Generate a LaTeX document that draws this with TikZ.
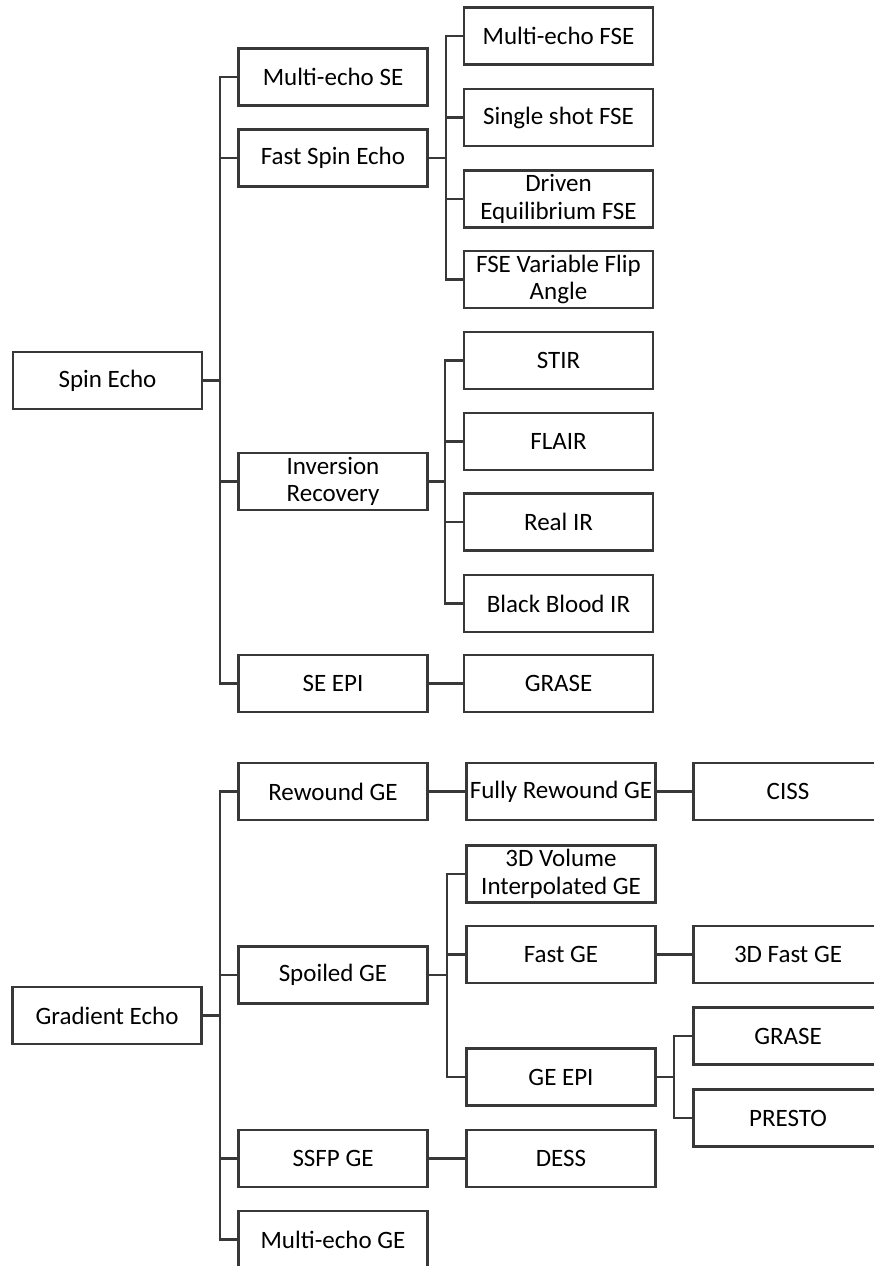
\documentclass[tikz,border=0pt]{standalone}
\usepackage{fontspec}
\setmainfont{Carlito}
\begin{document}
\begin{tikzpicture}[x=1pt,y=-1pt,
  box/.style={draw=black!78, line width=2.4pt, fill=white, text=black,
    minimum width=189pt, minimum height=57pt, inner sep=0pt, align=center,
    font=\fontsize{25}{27.5}\selectfont},
  link/.style={draw=black!78, line width=2.4pt}]
\useasboundingbox (0,0) rectangle (874,1266);
\clip (0,0) rectangle (874,1266);

% roots
\node[box] (se) at (107.5,380.5) {Spin Echo};
\node[box] (ge) at (107,1015.5) {Gradient Echo};

% spin echo family
\node[box] (mese)  at (333,77)    {Multi-echo SE};
\node[box] (fse)   at (333,158)   {Fast Spin Echo};
\node[box] (ir)    at (333,481.5) {Inversion\\Recovery};
\node[box] (seepi) at (333,683.5) {SE EPI};

\node[box] (mefse) at (558.5,36)    {Multi-echo FSE};
\node[box] (ssfse) at (558.5,117.5) {Single shot FSE};
\node[box] (defse) at (558.5,199)   {Driven\\Equilibrium FSE};
\node[box] (vfa)   at (558.5,279.5) {FSE Variable Flip\\Angle};
\node[box] (stir)  at (558.5,360.5) {STIR};
\node[box] (flair) at (558.5,441.5) {FLAIR};
\node[box] (realir) at (558.5,522)  {Real IR};
\node[box] (bbir)  at (558.5,603.5) {Black Blood IR};
\node[box] (grase) at (558.5,683.5) {GRASE};

% gradient echo family
\node[box] (rwge)  at (333,791.5)  {Rewound GE};
\node[box] (spge)  at (333,975)    {Spoiled GE};
\node[box] (ssfp)  at (333,1158.5) {SSFP GE};
\node[box] (mege)  at (333,1239.5) {Multi-echo GE};

\node[box] (frwge) at (561,791.5) {Fully Rewound GE};
\node[box] (vibe)  at (561,874)   {3D Volume\\Interpolated GE};
\node[box] (fge)   at (561,954.5) {Fast GE};
\node[box] (geepi) at (561,1077)  {GE EPI};
\node[box] (dess)  at (561,1158.5) {DESS};

\node[box] (ciss)   at (788,791.5) {CISS};
\node[box] (fge3d)  at (788,954.5) {3D Fast GE};
\node[box] (grase2) at (788,1036)  {GRASE};
\node[box] (presto) at (788,1118)  {PRESTO};

% trunk positions of the bracket connectors
\coordinate (tse)  at (220,0);
\coordinate (tfse) at (446,0);
\coordinate (tir)  at (445,0);
\coordinate (tge)  at (220,0);
\coordinate (tsp)  at (447,0);
\coordinate (tepi) at (674,0);

\foreach \c in {mese,fse,ir,seepi}
  \draw[link] (se.east) -- (se.east -| tse) |- (\c.west);
\foreach \c in {mefse,ssfse,defse,vfa}
  \draw[link] (fse.east) -- (fse.east -| tfse) |- (\c.west);
\foreach \c in {stir,flair,realir,bbir}
  \draw[link] (ir.east) -- (ir.east -| tir) |- (\c.west);
\draw[link] (seepi.east) -- (grase.west);

\foreach \c in {rwge,spge,ssfp,mege}
  \draw[link] (ge.east) -- (ge.east -| tge) |- (\c.west);
\draw[link] (rwge.east) -- (frwge.west);
\draw[link] (frwge.east) -- (ciss.west);
\foreach \c in {vibe,fge,geepi}
  \draw[link] (spge.east) -- (spge.east -| tsp) |- (\c.west);
\draw[link] (fge.east) -- (fge3d.west);
\foreach \c in {grase2,presto}
  \draw[link] (geepi.east) -- (geepi.east -| tepi) |- (\c.west);
\draw[link] (ssfp.east) -- (dess.west);
\end{tikzpicture}
\end{document}
